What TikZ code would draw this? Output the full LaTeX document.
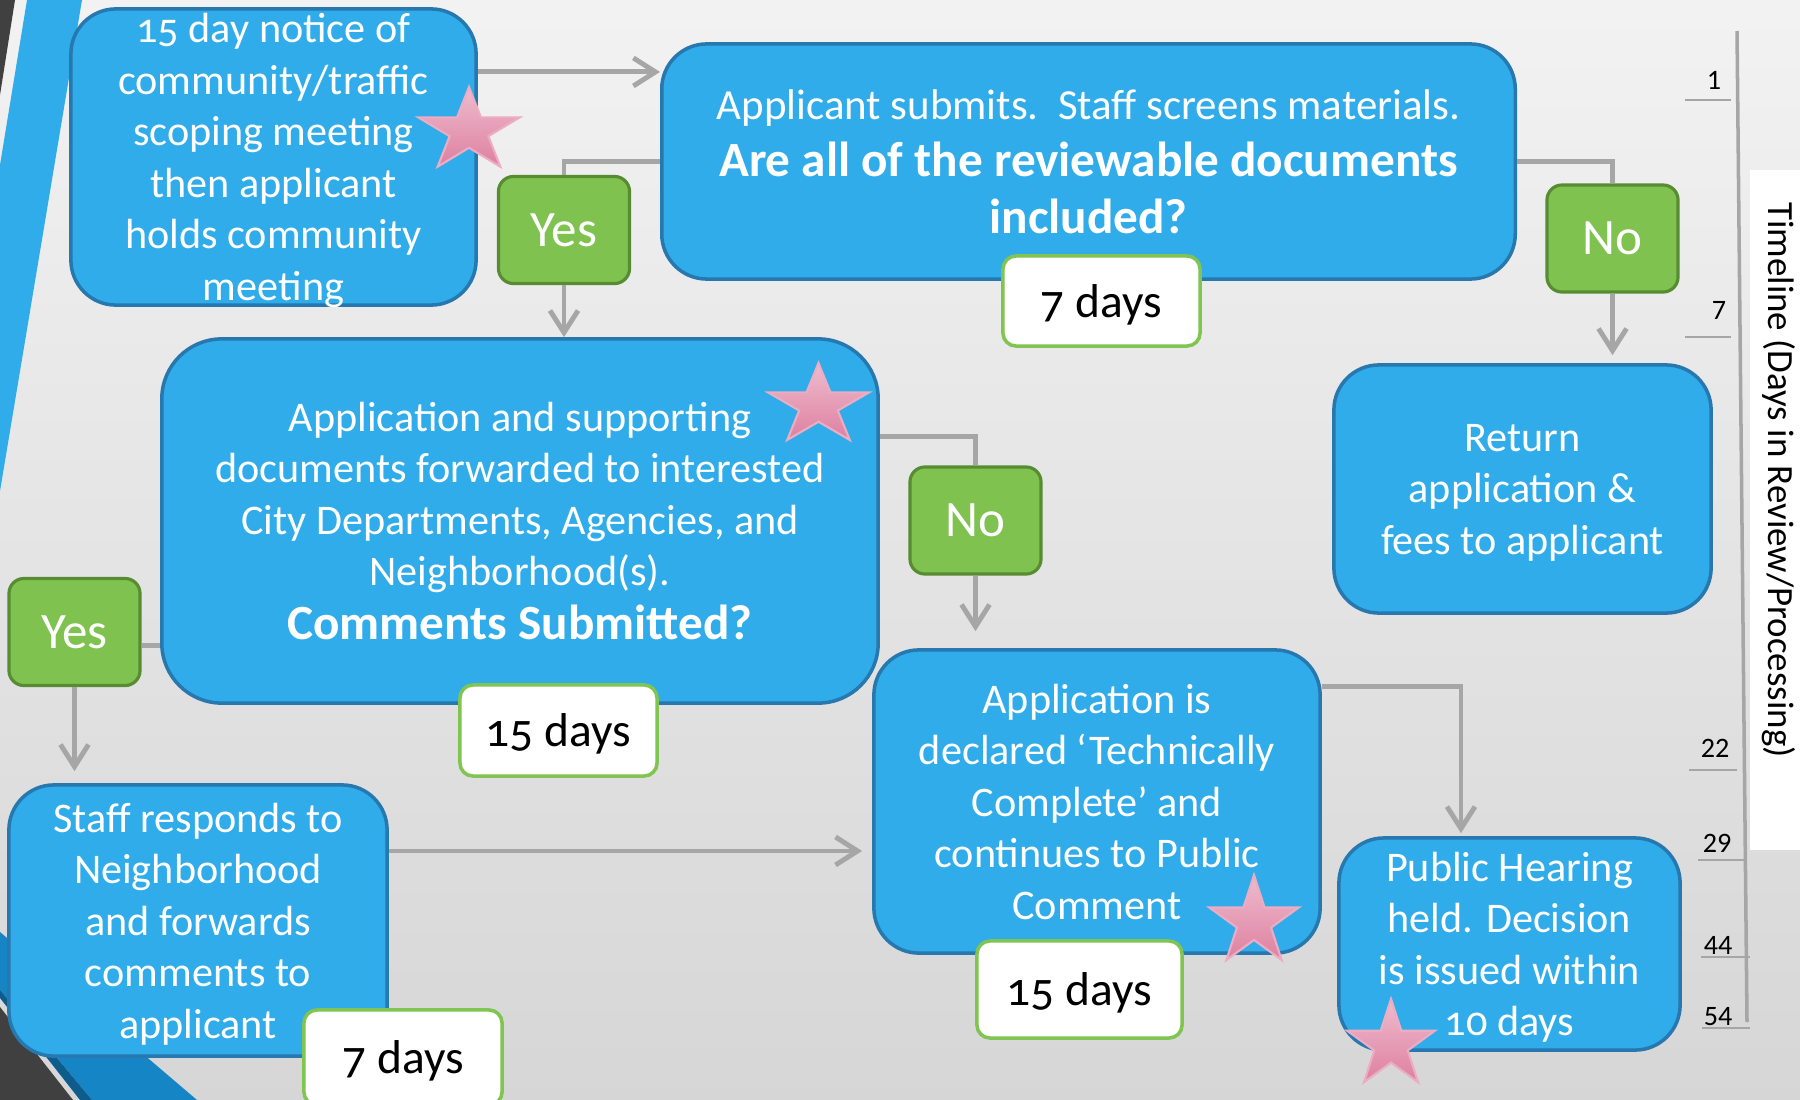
\documentclass[tikz,border=0pt]{standalone}
\usepackage{fontspec}
\setmainfont{Carlito}[Numbers=OldStyle]
\newfontfamily\liningfont{Carlito}
\usepackage{xcolor}
\usetikzlibrary{arrows.meta,shapes.geometric,calc}

\definecolor{boxblue}{RGB}{49,172,234}
\definecolor{boxedge}{RGB}{38,120,175}
\definecolor{labgreen}{RGB}{128,194,80}
\definecolor{labedge}{RGB}{88,140,50}
\definecolor{daysedge}{RGB}{128,196,82}
\definecolor{linkgray}{RGB}{166,166,166}
\definecolor{startop}{RGB}{238,188,206}
\definecolor{starbot}{RGB}{222,128,160}
\definecolor{staredge}{RGB}{236,172,194}
\definecolor{stripeblue}{RGB}{21,133,197}
\definecolor{stripedark}{RGB}{14,92,140}
\definecolor{cornergray}{RGB}{64,64,64}

\begin{document}
\begin{tikzpicture}[x=0.01cm, y=-0.01cm,
    every node/.style={inner sep=0pt},
    stepbox/.style={draw=boxedge, line width=1pt, fill=boxblue, rounded corners=4.5mm,
        text=white, align=center, text depth=0pt, font=\fontsize{12}{14.65}\selectfont},
    answer/.style={draw=labedge, line width=0.9pt, fill=labgreen, rounded corners=1.5mm,
        text=white, font=\fontsize{14.5}{16}\selectfont, minimum width=1.31cm, minimum height=1.07cm},
    daysbox/.style={draw=daysedge, line width=1pt, fill=white, rounded corners=1.3mm, text depth=0pt,
        font=\fontsize{13.5}{16}\selectfont, minimum width=1.97cm, minimum height=0.9cm},
    link/.style={draw=linkgray, line width=1.4pt},
    arr/.style={link, -{Straight Barb[length=2.2mm,width=2.8mm]}},
    pinkstar/.style={star, star points=5, star point ratio=2.62, minimum size=0.88cm,
        top color=startop, bottom color=starbot, draw=staredge, line width=0.6pt},
    tick/.style={draw=linkgray, line width=0.8pt},
    ticknum/.style={font=\liningfont\fontsize{8}{9}\selectfont}]
    \useasboundingbox (0,0) rectangle (1800,1100);

    % Background
    \shade[top color=black!5, bottom color=black!16] (0,0) rectangle (1800,1100);
    \fill[cornergray] (0,0) -- (15,0) -- (0,95) -- cycle;
    \fill[boxblue] (27,0) -- (82,0) -- (0,491) -- (0,165) -- cycle;
    \fill[stripeblue] (0,932) -- (197,1100) -- (92,1100) -- (0,990) -- cycle;
    \fill[stripedark] (0,990) -- (92,1100) -- (80,1100) -- (0,998) -- cycle;
    \fill[cornergray] (0,1007) -- (73,1100) -- (0,1100) -- cycle;

    % Timeline
    \fill[white] (1750,170) rectangle (1800,850);
    \node[rotate=-90, font=\liningfont\fontsize{10.5}{12}\selectfont] (tltitle) at (1779,480)
        {Timeline (Days in Review/Processing)};
    \draw[draw=linkgray, line width=1pt] (1737,31) -- (1747,1022);
    \draw[tick] (1685,100) -- (1731,100);
    \node[ticknum] (t1) at (1714,80) {1};
    \draw[tick] (1685,337) -- (1731,337);
    \node[ticknum] (t7) at (1719,310) {7};
    \draw[tick] (1689,770) -- (1737,770);
    \node[ticknum] (t22) at (1715,748) {22};
    \draw[tick] (1698,860) -- (1745,860);
    \node[ticknum] (t29) at (1717,843) {29};
    \draw[tick] (1701,957) -- (1750,957);
    \node[ticknum] (t44) at (1718,945) {44};
    \draw[tick] (1702,1028) -- (1750,1028);
    \node[ticknum] (t54) at (1718,1017) {54};

    % Steps
    \node[stepbox, minimum width=4.05cm, minimum height=2.96cm] (notice) at (273.5,157)
        {15 day notice of\\community/traffic\\scoping meeting\\then applicant\\holds community\\meeting};
    \node[stepbox, minimum width=8.53cm, minimum height=2.35cm,
        font=\fontsize{14}{16.2}\selectfont\bfseries] (appl) at (1088.5,161.5)
        {{\fontsize{12.2}{14}\selectfont\mdseries Applicant submits.\ \ Staff screens materials.}\\
         Are all of the reviewable documents\\included?};
    \node[stepbox, rounded corners=6mm, minimum width=7.16cm, minimum height=3.64cm] (fwd) at (520,521)
        {Application and supporting\\documents forwarded to interested\\City Departments, Agencies, and\\
         Neighborhood(s).\\[0.7pt]{\fontsize{14}{16}\selectfont\bfseries Comments Submitted?}};
    \node[stepbox, minimum width=3.77cm, minimum height=2.48cm] (ret) at (1522.5,489)
        {Return\\application \&\\fees to applicant};
    \node[stepbox, minimum width=4.46cm, minimum height=3.03cm] (tech) at (1097,801.5)
        {Application is\\declared ‘Technically\\Complete’ and\\continues to Public\\Comment};
    \node[stepbox, minimum width=3.78cm, minimum height=2.71cm] (staff) at (198,920.5)
        {Staff responds to\\Neighborhood\\and forwards\\comments to\\applicant};
    \node[stepbox, minimum width=3.41cm, minimum height=2.12cm] (pub) at (1509.5,944)
        {Public Hearing\\held. Decision\\is issued within\\10 days};

    % Answers
    \node[answer] (yes1) at (564,230) {Yes};
    \node[answer] (no1) at (1612.5,238.5) {No};
    \node[answer] (no2) at (975.5,520.5) {No};
    \node[answer] (yes2) at (74.5,632) {Yes};

    % Durations
    \node[daysbox] (d1) at (1101.5,301) {7 days};
    \node[daysbox, minimum height=0.91cm] (d2) at (558.5,730.5) {15 days};
    \node[daysbox, minimum width=2.05cm, minimum height=0.97cm] (d3) at (1079.5,989.5) {15 days};
    \node[daysbox, minimum width=1.98cm, minimum height=0.95cm] (d4) at (403,1057.5) {7 days};

    % Connectors
    \coordinate (noticetap) at ([yshift=8.5mm]notice.east);
    \draw[arr] (noticetap) -- (noticetap -| appl.west);
    \draw[link] (appl.west) -| (yes1.north);
    \draw[arr] (yes1.south) -- (fwd.north -| yes1.south);
    \draw[link] (appl.east) -| (no1.north);
    \draw[arr, shorten >=0.8mm] (no1.south) -- (ret.north -| no1.south);
    \draw[link] ([yshift=8.4mm]fwd.east) -| (no2.north);
    \draw[arr, shorten >=1.7mm] (no2.south) -- (tech.north -| no2.south);
    \coordinate (fwdtap) at ([yshift=-12.4mm]fwd.west);
    \draw[link] (fwdtap) -- (fwdtap -| yes2.east);
    \draw[arr, shorten >=1.2mm] (yes2.south) -- (staff.north -| yes2.south);
    \coordinate (stafftap) at ([yshift=6.95mm]staff.east);
    \draw[arr, shorten >=1mm] (stafftap) -- (stafftap -| tech.west);
    \coordinate (techtap) at ([yshift=11.45mm]tech.east);
    \coordinate (pubtop) at ([xshift=-4.85mm]pub.north);
    \draw[arr, shorten >=0.3mm] (techtap) -| (pubtop);

    % Stars
    \node[pinkstar, transform shape, xscale=1.21] (star1) at (469,131) {};
    \node[pinkstar, transform shape, xscale=1.25, minimum size=0.85cm] (star2) at (818.5,405.5) {};
    \node[pinkstar, minimum size=0.94cm] (star3) at (1254,922) {};
    \node[pinkstar, minimum size=0.92cm] (star4) at (1391,1045) {};
\end{tikzpicture}
\end{document}
